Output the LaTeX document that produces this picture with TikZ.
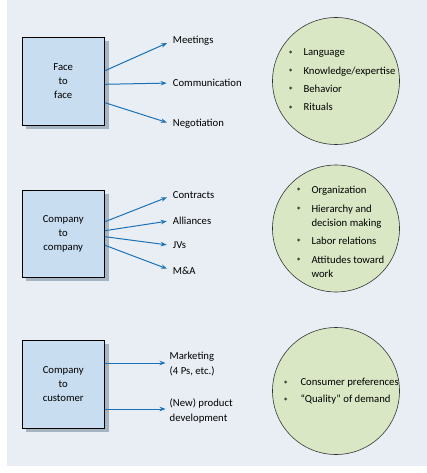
\documentclass[tikz,border=0pt]{standalone}
\usepackage{fontspec}
\setmainfont{Carlito}
\usetikzlibrary{positioning,arrows.meta,shadows}

\definecolor{panelbg}{HTML}{E8EEF3}
\definecolor{boxblue}{HTML}{C8DDF0}
\definecolor{shadowgray}{HTML}{A5B5C3}
\definecolor{circgreen}{HTML}{D9E7C5}
\definecolor{arrowblue}{HTML}{1C72B8}

\newcommand{\dimstar}{\raisebox{-2.3pt}{*}}

\tikzset{
  levelbox/.style={draw=black, line width=0.9pt, fill=boxblue,
    minimum width=82.5pt, minimum height=88pt, inner sep=0pt, align=center,
    font=\fontsize{10.7}{14}\selectfont,
    drop shadow={shadow xshift=4pt, shadow yshift=-4pt, fill=shadowgray, opacity=1}},
  topic/.style={anchor=west, inner sep=1pt, align=left,
    font=\fontsize{10.7}{14.5}\selectfont},
  link/.style={draw=arrowblue, line width=1pt, shorten >=5pt,
    -{Stealth[length=6pt,width=4.5pt]}},
  dimcircle/.style={circle, draw=black!80, line width=0.6pt, fill=circgreen,
    minimum size=127pt, inner sep=0pt},
  dimlist/.style={anchor=west, inner sep=0pt, align=left,
    font=\fontsize{10.7}{14}\selectfont}
}

\begin{document}
\begin{tikzpicture}[x=1pt, y=-1pt]
    \useasboundingbox (0,0) rectangle (427,473);
    \fill[panelbg] (7,0) rectangle (427,466);

    % levels of interaction
    \node[levelbox] (face) at (63.25,81) {Face\\to\\face};
    \node[levelbox, minimum height=87pt] (comp) at (63.25,233.5) {Company\\to\\company};
    \node[levelbox] (cust) at (63.25,384) {Company\\to\\customer};

    % face to face
    \node[topic] (meet) at (171.7,41) {Meetings};
    \node[topic] (comm) at (171.7,83) {Communication};
    \node[topic] (nego) at (171.7,124) {Negotiation};
    \draw[link] ([yshift=10.3pt]face.east) -- (meet.west);
    \draw[link] ([yshift=-3.3pt]face.east) -- (comm.west);
    \draw[link] ([yshift=-21.7pt]face.east) -- (nego.west);

    % company to company
    \node[topic] (contr) at (171.7,195.5) {Contracts};
    \node[topic] (alli) at (171.7,220.5) {Alliances};
    \node[topic] (jvs) at (171.7,245.5) {JVs};
    \node[topic] (ma) at (171.7,270.5) {M\&A};
    \draw[link] ([yshift=11.8pt]comp.east) -- (contr.west);
    \draw[link] ([yshift=2.8pt]comp.east) -- (alli.west);
    \draw[link] ([yshift=-3.2pt]comp.east) -- (jvs.west);
    \draw[link] ([yshift=-11.8pt]comp.east) -- (ma.west);

    % company to customer
    \node[topic] (mkt) at (168.5,364) {Marketing\\(4 Ps, etc.)};
    \node[topic] (prod) at (168.5,411) {(New) product\\development};
    \coordinate (mktstart) at ([yshift=21pt]cust.east);
    \coordinate (prodstart) at ([yshift=-25pt]cust.east);
    \draw[link, line width=0.8pt, shorten >=3pt] (mktstart) -- (mktstart -| mkt.west);
    \draw[link, line width=0.8pt, shorten >=3pt] (prodstart) -- (prodstart -| prod.west);

    % cultural dimensions
    \node[dimcircle] (circA) at (336,81) {};
    \node[dimlist] (listA) at (288,80.5) {\begin{tabular}{@{}l@{\hspace{10pt}}l@{}}
        \dimstar&Language\\[4.3pt]
        \dimstar&Knowledge/expertise\\[4.3pt]
        \dimstar&Behavior\\[4.3pt]
        \dimstar&Rituals
    \end{tabular}};

    \node[dimcircle] (circB) at (336,228.5) {};
    \node[dimlist] (listB) at (296,232.5) {\begin{tabular}{@{}l@{\hspace{10pt}}l@{}}
        \dimstar&Organization\\[4.5pt]
        \dimstar&Hierarchy and\\
         &decision making\\[4.5pt]
        \dimstar&Labor relations\\[4.5pt]
        \dimstar&Attitudes toward\\
         &work
    \end{tabular}};

    \node[dimcircle] (circC) at (336,391) {};
    \node[dimlist] (listC) at (283,391.5) {\begin{tabular}{@{}l@{\hspace{12pt}}l@{}}
        \dimstar&Consumer preferences\\[3pt]
        \dimstar&``Quality'' of demand
    \end{tabular}};
\end{tikzpicture}
\end{document}
